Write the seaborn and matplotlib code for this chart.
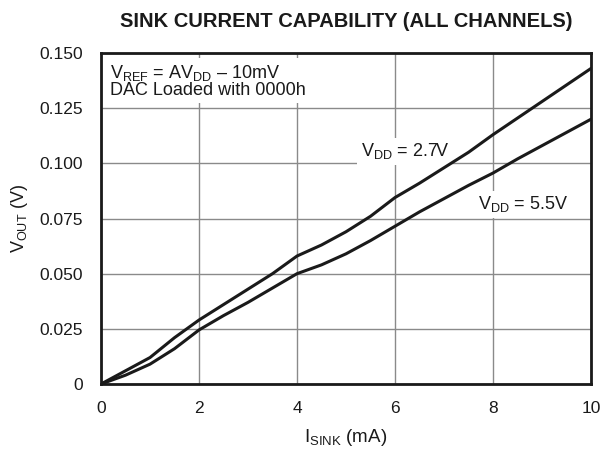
import matplotlib
matplotlib.use("Agg")
import matplotlib.pyplot as plt
import numpy as np
import pandas as pd
import seaborn as sns

# Sink current (mA) and output voltage (V) for each supply voltage
i_sink = [0, 0.5, 1, 1.5, 2, 2.5, 3, 3.5, 4, 4.5, 5, 5.5, 6, 6.5, 7, 7.5, 8, 8.5, 9, 9.5, 10]
vout_27 = [0, 0.006, 0.012, 0.021, 0.029, 0.036, 0.043, 0.050, 0.058, 0.063, 0.069,
           0.076, 0.0845, 0.091, 0.098, 0.105, 0.113, 0.1205, 0.128, 0.1355, 0.143]
vout_55 = [0, 0.004, 0.009, 0.016, 0.0245, 0.031, 0.037, 0.0435, 0.050, 0.054, 0.059,
           0.065, 0.0715, 0.078, 0.084, 0.090, 0.0956, 0.102, 0.108, 0.114, 0.120]
series_names = ["2.7V", "5.5V"]

x_ticks = [0, 2, 4, 6, 8, 10]
y_ticks = [0, 0.025, 0.050, 0.075, 0.100, 0.125, 0.150]
y_tick_labels = ["0", "0.025", "0.050", "0.075", "0.100", "0.125", "0.150"]

df = pd.concat([
    pd.DataFrame({"isink": i_sink, "vout": vout_27, "vdd": series_names[0]}),
    pd.DataFrame({"isink": i_sink, "vout": vout_55, "vdd": series_names[1]}),
])

sns.set_style("white")
plt.rcParams["font.family"] = ["Liberation Sans", "DejaVu Sans"]
plt.rcParams["mathtext.fontset"] = "custom"
plt.rcParams["mathtext.rm"] = "Liberation Sans"
plt.rcParams["mathtext.it"] = "Liberation Sans:italic"
plt.rcParams["mathtext.bf"] = "Liberation Sans:bold"

fig = plt.figure(figsize=(6.02, 4.55), dpi=100)
ax = fig.add_axes([0.1678, 0.156, 0.8139, 0.7275])

sns.lineplot(data=df, x="isink", y="vout", hue="vdd", palette=["#1a1a1a", "#1a1a1a"],
             linewidth=2.2, legend=False, ax=ax, zorder=3)

ax.set_xlim(0, 10)
ax.set_ylim(0, 0.150)
ax.set_xticks(x_ticks)
ax.set_xticklabels([str(t) for t in x_ticks])
ax.set_yticks(y_ticks)
ax.set_yticklabels(y_tick_labels)
ax.tick_params(axis="both", length=0, labelsize=12.5, colors="#1a1a1a")
ax.tick_params(axis="y", pad=13)
ax.tick_params(axis="x", pad=12)

ax.grid(True, color="#8a8a8a", linewidth=1.0, zorder=1)
for sp in ax.spines.values():
    sp.set_linewidth(2.0)
    sp.set_color("#1a1a1a")
    sp.set_zorder(5)

ax.set_xlabel(r"$\mathrm{I_{SINK}}$ (mA)", fontsize=13.5, labelpad=8, color="#1a1a1a")
ax.set_ylabel(r"$\mathrm{V_{OUT}}$ (V)", fontsize=13, labelpad=7, color="#1a1a1a")
ax.set_title("SINK CURRENT CAPABILITY (ALL CHANNELS)", fontsize=14.5, fontweight="bold",
             pad=19, color="#1a1a1a")

# White backing boxes hide the grid behind the annotations; curves stay on top
box = dict(facecolor="white", edgecolor="none", pad=2.5)
ax.text(0.18, 0.1455,
        r"$\mathrm{V_{REF}}$ = A$\mathrm{V_{DD}}$ – 10mV" + "\nDAC Loaded with 0000h",
        fontsize=13, va="top", ha="left", linespacing=0.95, color="#1a1a1a",
        bbox=dict(facecolor="white", edgecolor="none", pad=3.0), zorder=2)
ax.text(5.3, 0.1055, r"$\mathrm{V_{DD}}$ = 2.7V", fontsize=13, ha="left", va="center",
        color="#1a1a1a", bbox=box, zorder=2)
ax.text(7.7, 0.0815, r"$\mathrm{V_{DD}}$ = 5.5V", fontsize=13, ha="left", va="center",
        color="#1a1a1a", bbox=box, zorder=2)

fig.savefig("out.png", dpi=100, facecolor="white")
